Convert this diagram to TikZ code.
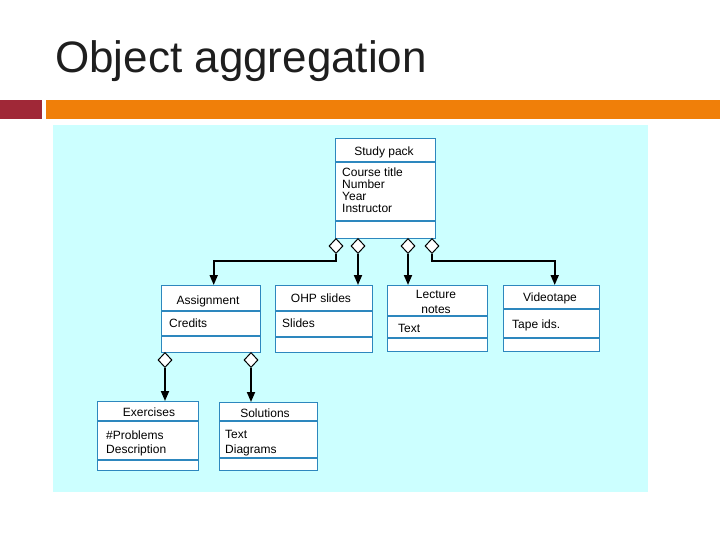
\documentclass[tikz,border=0pt]{standalone}
\usepackage{fontspec}
\setmainfont{Liberation Sans}
\usetikzlibrary{shapes.geometric, arrows.meta}

\definecolor{barred}{RGB}{160,40,55}
\definecolor{barorange}{RGB}{240,127,9}
\definecolor{panelcyan}{RGB}{204,255,255}
\definecolor{boxblue}{RGB}{45,135,190}
\definecolor{titlegray}{RGB}{30,30,30}

\tikzset{
	classbox/.style={draw=boxblue, fill=white, line width=1.4pt, inner sep=0pt, anchor=north west},
	sepline/.style={draw=boxblue, line width=1.4pt},
	head/.style={font=\fontsize{12}{14}\selectfont, anchor=base, inner sep=0pt},
	attr/.style={font=\fontsize{12}{14}\selectfont, anchor=base west, inner sep=0pt},
	aggr/.style={diamond, draw=black, fill=white, line width=1pt, minimum width=14pt, minimum height=15pt, inner sep=0pt, anchor=north},
	link/.style={->, line width=1.8pt}
}

\begin{document}
\begin{tikzpicture}[x=1pt, y=-1pt, line join=miter, >={Triangle[length=10pt, width=8pt]}]
	
	% Page frame
	\useasboundingbox (0,0) rectangle (720,540);
	
	% Title and bars
	\node[anchor=base west, inner sep=0pt, text=titlegray, font=\fontsize{44}{50}\selectfont] (title) at (55,73) {Object aggregation};
	\fill[barred] (0,100) rectangle (42,119);
	\fill[barorange] (46,100) rectangle (720,119);
	
	% Panel
	\fill[panelcyan] (53,125) rectangle (648,492);
	
	% Study pack
	\node[classbox, minimum width=100pt, minimum height=100pt] (pack) at (335,138) {};
	\draw[sepline] (pack.west |- 0,162) -- (pack.east |- 0,162);
	\draw[sepline] (pack.west |- 0,221) -- (pack.east |- 0,221);
	\node[head] (packh) at (384,156) {Study pack};
	\foreach \t [count=\i] in {Course title, Number, Year, Instructor} {
		\node[attr] (packa\i) at (342,{177+11.7*(\i-1)}) {\t};
	}
	
	% Assignment
	\node[classbox, minimum width=99pt, minimum height=67pt] (assign) at (161,285) {};
	\draw[sepline] (assign.west |- 0,311) -- (assign.east |- 0,311);
	\draw[sepline] (assign.west |- 0,336) -- (assign.east |- 0,336);
	\node[head] (assignh) at (208,304) {Assignment};
	\node[attr] (assigna1) at (169,327) {Credits};
	
	% OHP slides
	\node[classbox, minimum width=97pt, minimum height=67pt] (ohp) at (275,285) {};
	\draw[sepline] (ohp.west |- 0,311) -- (ohp.east |- 0,311);
	\draw[sepline] (ohp.west |- 0,337) -- (ohp.east |- 0,337);
	\node[head] (ohph) at (321,302) {OHP slides};
	\node[attr] (ohpa1) at (282,327) {Slides};
	
	% Lecture notes
	\node[classbox, minimum width=100pt, minimum height=66pt] (notes) at (387,285) {};
	\draw[sepline] (notes.west |- 0,316) -- (notes.east |- 0,316);
	\draw[sepline] (notes.west |- 0,338) -- (notes.east |- 0,338);
	\node[head] (notesh1) at (436,298) {Lecture};
	\node[head] (notesh2) at (436,313) {notes};
	\node[attr] (notesa1) at (398,332) {Text};
	
	% Videotape
	\node[classbox, minimum width=96pt, minimum height=66pt] (video) at (503,285) {};
	\draw[sepline] (video.west |- 0,309) -- (video.east |- 0,309);
	\draw[sepline] (video.west |- 0,338) -- (video.east |- 0,338);
	\node[head] (videoh) at (550,301) {Videotape};
	\node[attr] (videoa1) at (512,328) {Tape ids.};
	
	% Exercises
	\node[classbox, minimum width=101pt, minimum height=69pt] (exer) at (97,401) {};
	\draw[sepline] (exer.west |- 0,421) -- (exer.east |- 0,421);
	\draw[sepline] (exer.west |- 0,460) -- (exer.east |- 0,460);
	\node[head] (exerh) at (149,416) {Exercises};
	\node[attr] (exera1) at (106,439) {\#Problems};
	\node[attr] (exera2) at (106,453) {Description};
	
	% Solutions
	\node[classbox, minimum width=98pt, minimum height=68pt] (sol) at (219,402) {};
	\draw[sepline] (sol.west |- 0,421) -- (sol.east |- 0,421);
	\draw[sepline] (sol.west |- 0,458) -- (sol.east |- 0,458);
	\node[head] (solh) at (265,417) {Solutions};
	\node[attr] (sola1) at (225,438) {Text};
	\node[attr] (sola2) at (225,453) {Diagrams};
	
	% Aggregation diamonds
	\node[aggr] (d1) at (336,238) {};
	\node[aggr] (d2) at (358,238) {};
	\node[aggr] (d3) at (408,238) {};
	\node[aggr] (d4) at (432,238) {};
	\node[aggr] (d5) at (165,352) {};
	\node[aggr] (d6) at (251,352) {};
	
	% Links
	\draw[link] (d1.south) -- (d1.south |- 0,261) -| ([xshift=2.5pt]assign.north);
	\draw[link] (d2.south) -- (d2.south |- ohp.north);
	\draw[link] (d3.south) -- (d3.south |- notes.north);
	\draw[link] (d4.south) -- (d4.south |- 0,261) -| ([xshift=3pt]video.north);
	\draw[link] (d5.south) -- (d5.south |- exer.north);
	\draw[link] (d6.south) -- (d6.south |- sol.north);
	
\end{tikzpicture}
\end{document}
